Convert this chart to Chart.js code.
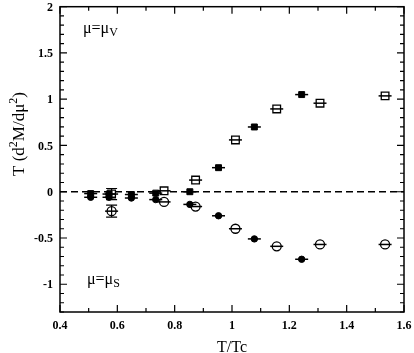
<!DOCTYPE html>
<html>
<head>
<meta charset="utf-8">
<script src="https://cdn.jsdelivr.net/npm/chart.js@4.4.1/dist/chart.umd.min.js"></script>
<style>
  html, body { margin: 0; padding: 0; background: #fff; }
  #wrap { width: 414px; height: 353px; }
</style>
</head>
<body>
<div id="wrap"><canvas id="secondDeriv"></canvas></div>
<script>
// T/Tc of the two sets of runs
var tFilled = [0.507, 0.571, 0.649, 0.734, 0.853, 0.953, 1.078, 1.243];
var tOpen   = [0.580, 0.763, 0.873, 1.012, 1.156, 1.307, 1.534];

// mu = mu_V  (squares)
var vFilled = [-0.02, -0.025, -0.03, -0.015, 0.0, 0.26, 0.70, 1.05];
var vOpen   = [-0.025, 0.01, 0.126, 0.56, 0.895, 0.957, 1.036];
var vOpenErr = [0.06, 0, 0, 0, 0, 0, 0];

// mu = mu_S  (circles)
var sFilled = [-0.06, -0.06, -0.068, -0.085, -0.137, -0.26, -0.51, -0.73];
var sOpen   = [-0.21, -0.11, -0.16, -0.40, -0.59, -0.57, -0.57];
var sOpenErr = [0.065, 0, 0, 0, 0, 0, 0];

var xTicks = [0.4, 0.6, 0.8, 1.0, 1.2, 1.4, 1.6];
var yTicks = [-1, -0.5, 0, 0.5, 1, 1.5, 2];

function pts(xs, ys) {
    return xs.map(function (x, i) { return { x: x, y: ys[i] }; });
}

function fmt(v) { return String(Math.round(v * 10) / 10); }

var serif = "'Liberation Serif', 'Times New Roman', serif";

// frame, inward ticks, tick labels, bars through the markers and the labels
var decor = {
    id: 'decor',
    afterDatasetsDraw: function (chart) {
        var ctx = chart.ctx;
        var xs = chart.scales.x, ys = chart.scales.y;
        var a = chart.chartArea;
        ctx.save();
        ctx.strokeStyle = '#000';
        ctx.fillStyle = '#000';

        chart.data.datasets.forEach(function (ds, i) {
            if (!ds.hbar) return;
            var meta = chart.getDatasetMeta(i);
            meta.data.forEach(function (p, j) {
                ctx.lineWidth = 1.5;
                ctx.beginPath();
                ctx.moveTo(p.x - ds.hbar, p.y);
                ctx.lineTo(p.x + ds.hbar, p.y);
                ctx.stroke();
                var e = ds.err ? ds.err[j] : 0;
                if (e) {
                    var y1 = ys.getPixelForValue(ds.data[j].y + e);
                    var y2 = ys.getPixelForValue(ds.data[j].y - e);
                    ctx.lineWidth = 1.2;
                    ctx.beginPath();
                    ctx.moveTo(p.x, y1); ctx.lineTo(p.x, y2);
                    ctx.moveTo(p.x - 5.5, y1); ctx.lineTo(p.x + 5.5, y1);
                    ctx.moveTo(p.x - 5.5, y2); ctx.lineTo(p.x + 5.5, y2);
                    ctx.stroke();
                }
            });
        });

        // box
        ctx.lineWidth = 1.5;
        ctx.strokeRect(a.left, a.top, a.right - a.left, a.bottom - a.top);

        // ticks pointing inwards on all four sides
        ctx.lineWidth = 1.2;
        ctx.beginPath();
        for (var k = 4; k <= 16; k++) {
            var px = xs.getPixelForValue(k / 10);
            var len = (k % 2 === 0) ? 7 : 4;
            ctx.moveTo(px, a.bottom); ctx.lineTo(px, a.bottom - len);
            ctx.moveTo(px, a.top); ctx.lineTo(px, a.top + len);
        }
        for (var m = -13; m <= 20; m++) {
            var py = ys.getPixelForValue(m / 10);
            var l2 = (m % 5 === 0) ? 7 : 4;
            ctx.moveTo(a.left, py); ctx.lineTo(a.left + l2, py);
            ctx.moveTo(a.right, py); ctx.lineTo(a.right - l2, py);
        }
        ctx.stroke();

        // tick labels
        ctx.font = 'bold 12px ' + serif;
        ctx.textAlign = 'center';
        ctx.textBaseline = 'middle';
        xTicks.forEach(function (v) {
            ctx.fillText(fmt(v), xs.getPixelForValue(v), a.bottom + 13.5);
        });
        ctx.textAlign = 'right';
        yTicks.forEach(function (v) {
            ctx.fillText(fmt(v), a.left - 7, ys.getPixelForValue(v) + 1);
        });

        // x title
        ctx.textAlign = 'center';
        ctx.textBaseline = 'alphabetic';
        ctx.font = '16px ' + serif;
        ctx.fillText('T/Tc', (a.left + a.right) / 2, 352);

        // mu = mu_V / mu_S
        ctx.textAlign = 'left';
        ctx.font = '16px ' + serif;
        ctx.fillText('\u03bc=\u03bc', 83, 33);
        var w = ctx.measureText('\u03bc=\u03bc').width;
        ctx.font = '12px ' + serif;
        ctx.fillText('V', 83 + w, 36);

        ctx.font = '16px ' + serif;
        ctx.fillText('\u03bc=\u03bc', 87, 284);
        ctx.font = '12px ' + serif;
        ctx.fillText('S', 87 + w, 287);

        // y title, rotated
        ctx.translate(19, 134);
        ctx.rotate(-Math.PI / 2);
        var parts = [['T (d', 17, 0], ['2', 12, -7], ['M/d\u03bc', 17, 0], ['2', 12, -7], [')', 17, 0]];
        var total = 0;
        parts.forEach(function (p) { ctx.font = p[1] + 'px ' + serif; total += ctx.measureText(p[0]).width; });
        var cx = -total / 2;
        parts.forEach(function (p) {
            ctx.font = p[1] + 'px ' + serif;
            ctx.fillText(p[0], cx, 5 + p[2]);
            cx += ctx.measureText(p[0]).width;
        });
        ctx.restore();
    }
};

var ctx = document.getElementById('secondDeriv').getContext('2d');
var chart = new Chart(ctx, {
    type: 'scatter',
    data: {
        datasets: [{
            type: 'line',
            data: [{ x: 0.4, y: 0 }, { x: 1.6, y: 0 }],
            borderColor: '#000',
            borderWidth: 1.5,
            borderDash: [7, 4],
            pointRadius: 0,
            order: 10
        }, {
            label: 'V filled',
            data: pts(tFilled, vFilled),
            pointStyle: 'rect',
            pointRadius: 4.2,
            backgroundColor: '#000',
            borderColor: '#000',
            borderWidth: 1,
            hbar: 6.5
        }, {
            label: 'V open',
            data: pts(tOpen, vOpen),
            err: vOpenErr,
            pointStyle: 'rect',
            pointRadius: 5.4,
            backgroundColor: '#fff',
            borderColor: '#000',
            borderWidth: 1.3,
            hbar: 6.5
        }, {
            label: 'S filled',
            data: pts(tFilled, sFilled),
            pointStyle: 'circle',
            pointRadius: 3.2,
            backgroundColor: '#000',
            borderColor: '#000',
            borderWidth: 1,
            hbar: 6.5
        }, {
            label: 'S open',
            data: pts(tOpen, sOpen),
            err: sOpenErr,
            pointStyle: 'circle',
            pointRadius: 4.5,
            backgroundColor: '#fff',
            borderColor: '#000',
            borderWidth: 1.3,
            hbar: 6.5
        }]
    },
    options: {
        responsive: true,
        maintainAspectRatio: false,
        animation: false,
        layout: { padding: { top: 5, right: 10, left: 0, bottom: 0 } },
        plugins: {
            legend: { display: false },
            tooltip: { enabled: false }
        },
        scales: {
            x: {
                type: 'linear',
                min: 0.4,
                max: 1.6,
                grid: { display: false, drawTicks: false },
                border: { display: false },
                ticks: { display: false },
                afterFit: function (scale) { scale.height = 41; }
            },
            y: {
                type: 'linear',
                min: -1.3,
                max: 2,
                grid: { display: false, drawTicks: false },
                border: { display: false },
                ticks: { display: false },
                afterFit: function (scale) { scale.width = 60; }
            }
        }
    },
    plugins: [decor]
});
</script>
</body>
</html>
